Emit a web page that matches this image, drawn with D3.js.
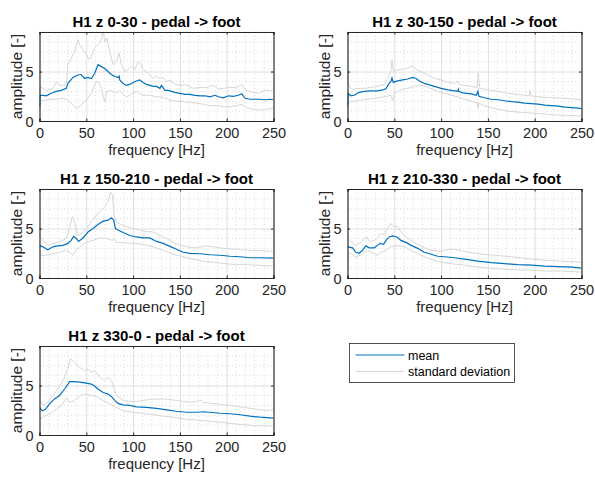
<!DOCTYPE html>
<html lang="en">
<head>
<meta charset="utf-8">
<script src="https://cdn.jsdelivr.net/npm/d3@7"></script>
<style>
    body { margin: 0; background: #fff; }
    svg text { font-family: "Liberation Sans", Arial, Helvetica, sans-serif; }
</style>
</head>
<body>
<script>

    // panel titles, ticks and legend labels
    var titles = ["H1 z 0-30 - pedal -> foot", "H1 z 30-150 - pedal -> foot",
                  "H1 z 150-210 - pedal -> foot", "H1 z 210-330 - pedal -> foot",
                  "H1 z 330-0 - pedal -> foot"];
    var freqTicks = [0, 50, 100, 150, 200, 250];
    var ampTicks = [0, 5];
    var legendLabels = ["mean", "standard deviation"];

    // [frequency Hz, amplitude]
    var p1Mean = [[0,1.5],[0.7,2.6],[3.6,2.6],[7.1,2.55],[12.5,2.8],[17.9,3.0],[23.2,3.1],[28.6,3.3],[30.4,3.8],[35.7,4.4],[41.1,4.65],[44.6,4.7],[48.2,4.3],[51.8,4.4],[55.4,4.3],[58.9,4.8],[62.5,5.7],[66.1,5.5],[69.6,5.3],[73.2,5.0],[76.8,4.7],[80.4,4.5],[83.9,4.4],[85,4.55],[85.7,4.15],[89.3,3.8],[92.9,3.6],[96.4,3.7],[100,3.9],[103.6,4.05],[107.1,4.15],[110.7,3.9],[114.3,3.7],[117.9,3.6],[121.4,3.5],[125,3.5],[128.6,3.3],[130.4,3.6],[133.9,3.1],[137.5,3.1],[141.1,3.0],[144.6,2.9],[150,2.8],[155.4,2.7],[160.7,2.7],[166.1,2.6],[171.4,2.55],[176.8,2.55],[182.1,2.45],[187.5,2.6],[191.1,2.45],[196.4,2.35],[201.8,2.55],[207.1,2.5],[212.5,2.6],[216.1,2.75],[219.6,2.3],[225,2.2],[230.4,2.2],[235.7,2.2],[241.1,2.15],[246.4,2.2],[250,2.15]];
    var p1Upper = [[0,2.0],[0.7,3.5],[3.6,3.3],[8.9,3.1],[14.3,3.3],[17.9,3.9],[23.2,3.5],[28.6,3.8],[30.4,5.7],[33.9,6.35],[37.5,7.0],[41.1,8.2],[42.9,7.7],[46.4,7.2],[50,6.7],[53.6,6.2],[55.4,6.5],[58.9,7.4],[62.5,7.7],[66.1,8.2],[67.9,9.3],[69.6,8.0],[72.1,8.4],[75,7.0],[78.6,5.7],[82.1,6.0],[85,6.9],[87.5,5.7],[91.1,5.0],[94.6,5.2],[98.2,5.5],[101.8,5.2],[105.4,6.0],[107.9,5.85],[110.7,5.2],[114.3,5.0],[117.9,4.65],[121.4,4.3],[125,4.5],[128.6,4.3],[132.1,4.4],[135.7,4.0],[139.3,4.15],[142.9,3.8],[150,3.6],[157.1,3.65],[164.3,3.3],[171.4,3.4],[178.6,3.4],[185.7,3.6],[191.1,3.25],[196.4,3.3],[203.6,3.4],[210.7,3.4],[216.1,3.7],[219.6,3.15],[226.8,2.9],[233.9,2.8],[241.1,3.15],[246.4,3.05],[250,3.15]];
    var p1Lower = [[0,1.0],[0.7,1.3],[1.8,2.1],[5.4,2.1],[10.7,2.2],[17.9,2.2],[25,2.3],[30.4,2.1],[33.9,1.8],[39.3,1.3],[42.9,1.45],[46.4,1.8],[50,2.1],[55.4,2.8],[60.7,4.0],[64.3,3.8],[67.9,2.6],[69.6,1.95],[72.1,3.0],[75,3.1],[78.6,3.0],[82.1,2.8],[85.7,3.1],[89.3,2.7],[92.9,2.45],[96.4,2.6],[100,2.8],[103.6,3.0],[107.1,2.8],[110.7,2.6],[117.9,2.6],[125,2.45],[132.1,2.4],[139.3,2.1],[146.4,2.0],[153.6,1.95],[160.7,1.9],[167.9,1.8],[175,1.7],[182.1,1.55],[189.3,1.55],[196.4,1.45],[203.6,1.45],[210.7,1.55],[216.1,1.7],[221.4,1.35],[228.6,1.2],[235.7,1.1],[242.9,1.2],[250,1.3]];

    var p2Mean = [[0,1.5],[0.7,2.8],[3.6,2.55],[7.1,2.6],[12.5,2.9],[17.9,3.0],[25,3.05],[32.1,3.05],[37.5,3.15],[41.1,3.25],[43.6,3.7],[46.4,4.0],[47.5,4.35],[48.9,3.9],[53.6,4.05],[58.9,4.15],[64.3,4.25],[69.6,4.4],[73.2,4.3],[76.8,4.05],[82.1,3.8],[87.5,3.65],[92.9,3.5],[100,3.3],[107.1,3.15],[114.3,3.05],[117.9,3.0],[118.5,3.2],[119,3.0],[123.2,2.85],[132.1,2.75],[137.5,2.6],[139.3,3.0],[140.4,2.5],[146.4,2.35],[153.6,2.2],[160.7,2.15],[167.9,2.05],[175,1.95],[182.1,1.9],[189.3,1.8],[196.4,1.75],[203.6,1.7],[210.7,1.6],[217.9,1.55],[225,1.5],[232.1,1.4],[239.3,1.35],[246.4,1.3],[250,1.25]];
    var p2Upper = [[0,4.6],[1.8,3.5],[5.4,3.2],[10.7,3.3],[17.9,3.3],[25,3.4],[32.1,3.5],[39.3,3.7],[42.9,4.3],[46.4,5.0],[47.5,6.2],[48.9,5.0],[53.6,5.2],[58.9,5.2],[64.3,5.35],[69.6,5.6],[73.2,5.2],[78.6,5.0],[85.7,4.65],[92.9,4.3],[100,4.15],[107.1,3.9],[114.3,3.8],[117.9,4.05],[119,3.7],[125,3.6],[132.1,3.5],[138.6,3.4],[139.6,4.85],[141.4,3.3],[150,3.15],[160.7,3.0],[171.4,2.8],[182.1,2.7],[189.3,2.6],[194.3,2.55],[195,3.1],[196,2.55],[203.6,2.45],[217.9,2.35],[232.1,2.3],[242.9,2.2],[250,2.15]];
    var p2Lower = [[0,1.1],[1.8,1.95],[7.1,2.0],[17.9,2.15],[28.6,2.3],[39.3,2.45],[46.4,2.6],[48.2,2.1],[50,2.8],[57.1,3.15],[64.3,3.3],[71.4,3.5],[78.6,3.6],[83.9,3.5],[89.3,3.25],[96.4,3.0],[103.6,2.8],[110.7,2.6],[117.9,2.45],[125,2.2],[132.1,2.0],[138.6,1.85],[139.3,1.3],[140.4,1.8],[146.4,1.55],[153.6,1.35],[160.7,1.2],[171.4,1.0],[182.1,0.9],[196.4,0.8],[210.7,0.7],[225,0.6],[239.3,0.55],[250,0.5]];

    var p3Mean = [[0,3.3],[3.6,3.15],[8.9,2.85],[14.3,3.15],[19.6,3.25],[25,3.3],[30.4,3.5],[33.9,3.8],[36.4,4.2],[39.3,4.0],[41.8,3.7],[46.4,4.05],[51.8,4.65],[57.1,5.0],[62.5,5.4],[67.9,5.75],[73.2,5.85],[76.8,6.1],[79.3,5.85],[81.1,5.0],[83.9,4.85],[89.3,4.6],[96.4,4.3],[103.6,4.15],[110.7,4.05],[117.9,4.05],[125,3.7],[132.1,3.5],[139.3,3.2],[146.4,2.9],[153.6,2.6],[160.7,2.5],[171.4,2.45],[182.1,2.35],[192.9,2.3],[203.6,2.2],[214.3,2.15],[225,2.05],[235.7,2.05],[250,2.0]];
    var p3Upper = [[0,4.3],[3.6,3.8],[8.9,3.3],[14.3,3.5],[21.4,3.65],[28.6,4.0],[32.1,5.0],[35,6.2],[37.5,5.7],[40,4.3],[44.6,4.4],[50,5.0],[55.4,5.7],[60.7,6.35],[66.1,6.85],[69.6,7.2],[73.2,7.7],[75.7,8.7],[77.9,8.4],[79.6,6.35],[82.1,5.7],[87.5,5.35],[92.9,5.2],[100,5.0],[107.1,4.85],[114.3,4.7],[121.4,4.65],[128.6,4.3],[135.7,4.0],[142.9,3.6],[150,3.3],[157.1,3.15],[167.9,3.05],[178.6,3.25],[185.7,3.15],[196.4,3.0],[210.7,2.9],[225,2.8],[239.3,2.75],[250,2.7]];
    var p3Lower = [[0,2.3],[7.1,2.3],[14.3,2.45],[21.4,2.6],[28.6,2.8],[32.1,2.6],[35.7,2.3],[38.6,2.8],[42.9,3.15],[50,3.6],[57.1,3.8],[64.3,4.05],[71.4,4.0],[77.9,3.8],[79.6,4.05],[82.1,3.6],[89.3,3.55],[100,3.5],[110.7,3.4],[117.9,3.25],[125,3.05],[132.1,2.8],[139.3,2.55],[146.4,2.3],[153.6,2.15],[164.3,1.9],[175,1.7],[189.3,1.55],[203.6,1.4],[217.9,1.35],[232.1,1.3],[250,1.2]];

    var p4Mean = [[0,3.15],[5.4,3.05],[8.9,2.6],[12.5,2.5],[16.1,2.8],[19.6,3.25],[23.2,3.05],[28.6,3.05],[32.1,3.3],[35,3.5],[38.6,3.4],[41.1,3.8],[44.6,4.15],[48.2,4.25],[52.9,4.15],[57.1,3.8],[62.5,3.6],[67.9,3.3],[75,3.0],[82.1,2.6],[89.3,2.4],[96.4,2.2],[103.6,2.15],[114.3,2.05],[125,1.9],[139.3,1.7],[153.6,1.55],[167.9,1.45],[182.1,1.35],[196.4,1.3],[210.7,1.2],[225,1.15],[239.3,1.1],[250,1.0]];
    var p4Upper = [[0,4.7],[1,4.0],[3.6,3.65],[8.9,3.3],[14.3,3.6],[17.9,4.0],[20.7,4.15],[23.2,3.7],[28.6,3.8],[32.1,4.05],[35.7,4.5],[39.3,4.4],[42.9,5.05],[46.4,5.5],[49.3,5.2],[53.6,5.2],[57.1,4.65],[62.5,4.15],[67.9,3.8],[75,3.4],[82.1,3.05],[89.3,2.8],[100,2.7],[107.1,2.9],[114.3,2.9],[125,2.7],[139.3,2.45],[157.1,2.3],[175,2.15],[192.9,1.95],[210.7,1.8],[228.6,1.7],[250,1.6]];
    var p4Lower = [[0,1.5],[1,2.6],[3.6,2.45],[8.9,2.1],[14.3,2.35],[21.4,2.8],[28.6,2.45],[32.1,2.3],[35.7,2.6],[41.1,2.8],[46.4,3.15],[53.6,3.3],[60.7,3.15],[67.9,2.8],[75,2.45],[82.1,2.15],[89.3,1.9],[100,1.6],[110.7,1.45],[125,1.3],[139.3,1.1],[157.1,0.95],[175,0.85],[192.9,0.8],[210.7,0.7],[228.6,0.7],[250,0.6]];

    var p5Mean = [[0,2.8],[2.9,2.45],[6.4,2.6],[10.7,3.15],[16.1,3.65],[21.4,4.0],[26.8,4.65],[30.4,5.15],[32.1,5.4],[37.5,5.4],[42.9,5.35],[50,5.25],[55.4,5.15],[58.9,4.95],[62.5,4.65],[67.9,4.3],[73.2,4.15],[76.8,3.9],[80.4,3.5],[83.9,3.2],[89.3,3.05],[96.4,3.0],[103.6,2.85],[114.3,2.8],[125,2.7],[135.7,2.55],[146.4,2.4],[157.1,2.3],[167.9,2.3],[175,2.35],[182.1,2.3],[192.9,2.2],[203.6,2.15],[214.3,2.05],[225,1.9],[235.7,1.8],[250,1.7]];
    var p5Upper = [[0,4.6],[1,3.5],[3.6,3.0],[8.9,3.3],[14.3,4.0],[19.6,4.65],[25,5.5],[30.4,6.7],[32.9,7.7],[37.5,7.35],[42.9,6.85],[48.2,6.5],[51.8,6.7],[55.4,6.35],[58.9,6.5],[64.3,5.85],[69.6,5.5],[73.2,5.85],[76.8,5.5],[82.1,4.0],[89.3,3.5],[96.4,3.4],[103.6,3.4],[117.9,3.6],[132.1,3.65],[146.4,3.5],[160.7,3.3],[173.2,3.5],[175,3.3],[189.3,3.15],[203.6,3.0],[217.9,2.8],[232.1,2.6],[242.9,2.45],[250,2.6]];
    var p5Lower = [[0,1.6],[3.6,1.8],[10.7,2.15],[17.9,2.6],[25,3.15],[28.6,3.8],[32.1,3.3],[37.5,3.5],[44.6,4.05],[50,4.15],[55.4,4.0],[60.7,3.9],[67.9,3.5],[75,3.15],[82.1,2.8],[89.3,2.45],[100,2.3],[114.3,2.15],[128.6,1.95],[142.9,1.8],[157.1,1.6],[175,1.45],[192.9,1.3],[210.7,1.1],[228.6,0.95],[250,0.9]];

    var panels = [
        {title: titles[0], mean: p1Mean, upper: p1Upper, lower: p1Lower},
        {title: titles[1], mean: p2Mean, upper: p2Upper, lower: p2Lower},
        {title: titles[2], mean: p3Mean, upper: p3Upper, lower: p3Lower},
        {title: titles[3], mean: p4Mean, upper: p4Upper, lower: p4Lower},
        {title: titles[4], mean: p5Mean, upper: p5Upper, lower: p5Lower}
    ];

    var width = 595, height = 477;
    var plotW = 234, plotH = 89;
    var lefts = [39.5, 347.5], tops = [32, 189, 346];
    var meanColor = "#0072bd", stdColor = "#d6d6d6", axisColor = "#262626";

    var svg = d3.select("body").append("svg")
            .attr("width", width)
            .attr("height", height);

    var x = d3.scaleLinear().domain([0, 250]).range([0, plotW]);
    var y = d3.scaleLinear().domain([0, 9]).range([plotH, 0]);
    var minorX = d3.range(0, 251, 10).filter(function(d){ return d % 50 !== 0; });
    var minorY = d3.range(0, 10, 1).filter(function(d){ return d % 5 !== 0; });

    var line = d3.line()
            .x(function(d){ return x(d[0]); })
            .y(function(d){ return y(d[1]); });

    svg.append("defs").append("clipPath")
            .attr("id", "plotClip")
            .append("rect")
            .attr("width", plotW)
            .attr("height", plotH);

    panels.forEach(function(p, i){
        var g = svg.append("g")
                .attr("transform", "translate(" + lefts[i % 2] + "," + tops[Math.floor(i / 2)] + ")");

        /*
        minor grid
         */
        g.selectAll(".minorX").data(minorX).enter().append("line")
                .attr("x1", function(d){ return x(d); }).attr("x2", function(d){ return x(d); })
                .attr("y1", 0).attr("y2", plotH)
                .style("stroke", "#d0d0d0").style("stroke-width", 0.8)
                .style("stroke-dasharray", "1,2.5");
        g.selectAll(".minorY").data(minorY).enter().append("line")
                .attr("x1", 0).attr("x2", plotW)
                .attr("y1", function(d){ return y(d); }).attr("y2", function(d){ return y(d); })
                .style("stroke", "#d0d0d0").style("stroke-width", 0.8)
                .style("stroke-dasharray", "1,2.5");

        /*
        major grid
         */
        g.append("g")
                .call(d3.axisBottom(x).tickValues(freqTicks).tickSize(plotH).tickFormat(""))
                .call(function(a){
                    a.select(".domain").remove();
                    a.selectAll("line").style("stroke", "#dfdfdf");
                });
        g.append("g")
                .call(d3.axisLeft(y).tickValues(ampTicks).tickSize(-plotW).tickFormat(""))
                .call(function(a){
                    a.select(".domain").remove();
                    a.selectAll("line").style("stroke", "#dfdfdf");
                });

        /*
        curves
         */
        var curves = g.append("g").attr("clip-path", "url(#plotClip)");
        [p.upper, p.lower].forEach(function(s){
            curves.append("path").datum(s)
                    .attr("d", line)
                    .style("fill", "none")
                    .style("stroke", stdColor)
                    .style("stroke-width", 1);
        });
        curves.append("path").datum(p.mean)
                .attr("d", line)
                .style("fill", "none")
                .style("stroke", meanColor)
                .style("stroke-width", 1.2);

        /*
        axes with inward ticks on all sides
         */
        var xb = g.append("g").attr("transform", "translate(0," + plotH + ")")
                .call(d3.axisBottom(x).tickValues(freqTicks).tickSize(-2.5).tickPadding(6));
        var yl = g.append("g")
                .call(d3.axisLeft(y).tickValues(ampTicks).tickSize(-2.5).tickPadding(6));
        var xt = g.append("g")
                .call(d3.axisTop(x).tickValues(freqTicks).tickSize(-2.5).tickFormat(""));
        var yr = g.append("g").attr("transform", "translate(" + plotW + ",0)")
                .call(d3.axisRight(y).tickValues(ampTicks).tickSize(-2.5).tickFormat(""));
        [xb, yl, xt, yr].forEach(function(a){
            a.select(".domain").style("stroke", axisColor).style("stroke-width", 1.1);
            a.selectAll("line").style("stroke", axisColor);
            a.selectAll("text")
                    .style("font-size", "14.5px")
                    .style("fill", axisColor);
        });
        yl.selectAll("text").attr("dy", "0.35em");
        xb.selectAll("text").attr("y", 0).attr("dy", "17px");

        /*
        titles and labels
         */
        g.append("text")
                .attr("x", plotW / 2)
                .attr("y", -5.5)
                .attr("text-anchor", "middle")
                .style("font-size", "15px")
                .style("font-weight", "bold")
                .style("fill", "#000")
                .text(p.title);
        g.append("text")
                .attr("x", plotW / 2)
                .attr("y", plotH + 34)
                .attr("text-anchor", "middle")
                .style("font-size", "15px")
                .style("fill", axisColor)
                .text("frequency [Hz]");
        g.append("text")
                .attr("transform", "translate(-17.5," + (plotH / 2) + ") rotate(-90)")
                .attr("text-anchor", "middle")
                .style("font-size", "15.5px")
                .style("fill", axisColor)
                .text("amplitude [-]");
    });

    /*
    legend
     */
    var legend = svg.append("g").attr("transform", "translate(349.5,343.5)");
    legend.append("rect")
            .attr("width", 165)
            .attr("height", 39)
            .style("fill", "#fff")
            .style("stroke", axisColor)
            .style("stroke-width", 0.8);
    legend.selectAll("line.item").data(legendLabels).enter().append("line")
            .attr("x1", 6).attr("x2", 55)
            .attr("y1", function(d, i){ return 11.5 + i * 16.5; })
            .attr("y2", function(d, i){ return 11.5 + i * 16.5; })
            .style("stroke", function(d, i){ return i === 0 ? meanColor : stdColor; })
            .style("stroke-width", 1.1);
    legend.selectAll("text.item").data(legendLabels).enter().append("text")
            .attr("x", 58.5)
            .attr("y", function(d, i){ return 11.5 + i * 16.5 + 4.5; })
            .style("font-size", "12.5px")
            .style("fill", "#000")
            .text(function(d){ return d; });

</script>
</body>
</html>
